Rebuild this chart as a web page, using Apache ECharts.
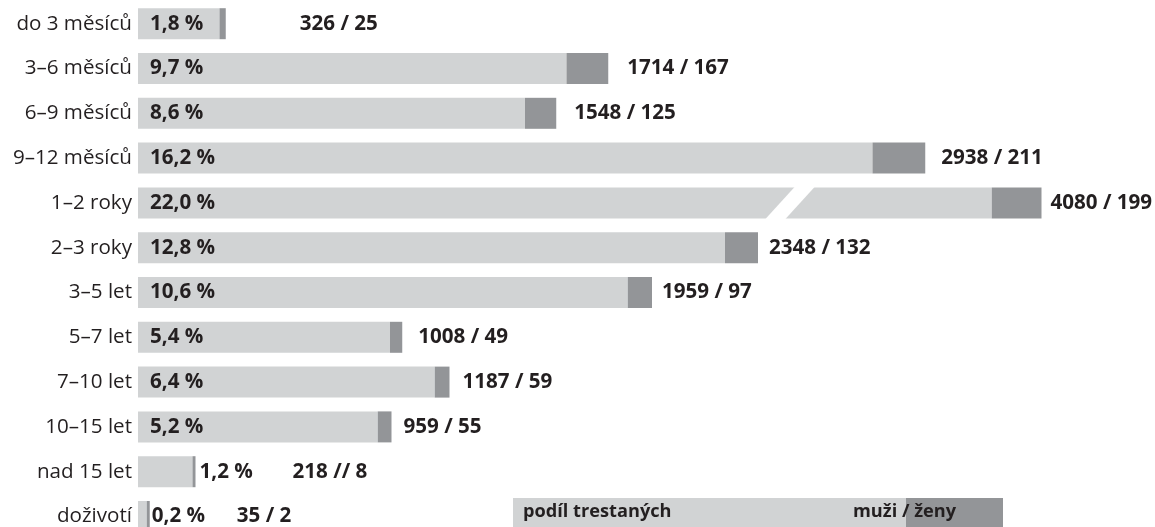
<!DOCTYPE html>
<html>
<head>
<meta charset="utf-8">
<script src="https://cdn.jsdelivr.net/npm/echarts@6/dist/echarts.min.js"></script>
<style>
html,body{margin:0;padding:0;background:#fff;}
#chart{width:1155px;height:527px;}
</style>
</head>
<body>
<div id="chart"></div>
<script>
// ---- data ----
const categories = ['do 3 měsíců', '3–6 měsíců', '6–9 měsíců', '9–12 měsíců', '1–2 roky', '2–3 roky', '3–5 let', '5–7 let', '7–10 let', '10–15 let', 'nad 15 let', 'doživotí'];
const men   = [326, 1714, 1548, 2938, 4080, 2348, 1959, 1008, 1187, 959, 218, 35];
const women = [25, 167, 125, 211, 199, 132, 97, 49, 59, 55, 8, 2];
const share = [1.8, 9.7, 8.6, 16.2, 22.0, 12.8, 10.6, 5.4, 6.4, 5.2, 1.2, 0.2];
const separators = {10: ' // '};          // as printed in the original
const legendTexts = ['podíl trestaných', 'muži / ženy'];

// ---- layout / style (not data) ----
const LIGHT = '#d1d3d4', DARK = '#939598', TEXT = '#231f20';
const FONT = '"Open Sans", "Noto Sans", sans-serif';
const FS = 20.6;
const countGap = [74, 19, 18, 16, 9, 11, 10, 16, 13, 12, 4, 2];
const outsideShare = {10: 93, 11: 85};    // rows whose share label sits outside (rich box width)
const axisCut = {start: 3200, end: 3865}; // compressed range (only the 1–2 roky bar crosses it)
const slashAt = 2608;                     // where the cut mark is drawn on the long bar
const longRow = categories.indexOf('1–2 roky');

const fmtShare = v => v.toFixed(1).replace('.', ',') + ' %';
const fmtCount = i => men[i] + (separators[i] || ' / ') + women[i];

const chart = echarts.init(document.getElementById('chart'), null, {renderer: 'canvas'});

const rich = {
  c: {fontFamily: FONT, fontSize: FS, fontWeight: 'bold', color: TEXT}
};
Object.keys(outsideShare).forEach(k => {
  rich['p' + k] = {fontFamily: FONT, fontSize: FS, fontWeight: 'bold', color: TEXT, width: outsideShare[k]};
});

const option = {
  animation: false,
  backgroundColor: '#fff',
  grid: {left: 138, right: 0, top: 1.3, bottom: -11.9, outerBoundsMode: 'none', containLabel: false},
  xAxis: {
    type: 'value', min: 0, max: 4068 + (axisCut.end - axisCut.start), show: false,
    breaks: [{start: axisCut.start, end: axisCut.end, gap: 0}],
    breakArea: {show: false, itemStyle: {opacity: 0}, expandOnClick: false}
  },
  yAxis: {
    type: 'category', inverse: true, data: categories,
    axisLine: {show: false}, axisTick: {show: false}, splitLine: {show: false},
    axisLabel: {fontFamily: FONT, fontSize: FS, color: TEXT, margin: 6}
  },
  series: [
    {
      name: 'muži', type: 'bar', stack: 'a', barWidth: 31,
      itemStyle: {color: LIGHT},
      data: men.map((v, i) => ({value: v, label: {show: !(i in outsideShare)}})),
      label: {
        show: true, position: 'insideLeft', distance: 12,
        fontFamily: FONT, fontSize: FS, fontWeight: 'bold', color: TEXT,
        formatter: p => fmtShare(share[p.dataIndex])
      }
    },
    {
      name: 'ženy', type: 'bar', stack: 'a', barWidth: 31, barMinHeight: 3,
      itemStyle: {color: DARK},
      data: women.map((v, i) => ({value: v, label: {distance: countGap[i]}})),
      label: {
        show: true, position: 'right',
        fontFamily: FONT, fontSize: FS, fontWeight: 'bold', color: TEXT,
        rich: rich,
        formatter: p => {
          const i = p.dataIndex;
          if (i in outsideShare) return '{p' + i + '|' + fmtShare(share[i]) + '}{c|' + fmtCount(i) + '}';
          return '{c|' + fmtCount(i) + '}';
        }
      }
    },
    {
      name: 'cut', type: 'custom', z: 5, silent: true,
      encode: {x: 0, y: 1},
      data: [[slashAt, longRow]],
      renderItem: (params, api) => {
        const p = api.coord([api.value(0), api.value(1)]);
        const h = 17, hw = 10, s = 15.5;
        return {
          type: 'polygon',
          shape: {points: [[p[0] - hw + s, p[1] - h], [p[0] + hw + s, p[1] - h], [p[0] + hw - s, p[1] + h], [p[0] - hw - s, p[1] + h]]},
          style: {fill: '#fff'}
        };
      }
    }
  ],
  graphic: [
    {type: 'rect', left: 513, top: 498, shape: {width: 393, height: 31}, style: {fill: LIGHT}, z: 10},
    {type: 'rect', left: 906, top: 498, shape: {width: 97, height: 31}, style: {fill: DARK}, z: 10},
    {type: 'text', left: 523, top: 503, z: 11, style: {text: legendTexts[0], fontFamily: FONT, fontSize: 18.2, fontWeight: 'bold', fill: TEXT}},
    {type: 'text', left: 853, top: 503, z: 11, style: {text: legendTexts[1], fontFamily: FONT, fontSize: 18.2, fontWeight: 'bold', fill: TEXT}}
  ]
};
chart.setOption(option);
</script>
</body>
</html>
